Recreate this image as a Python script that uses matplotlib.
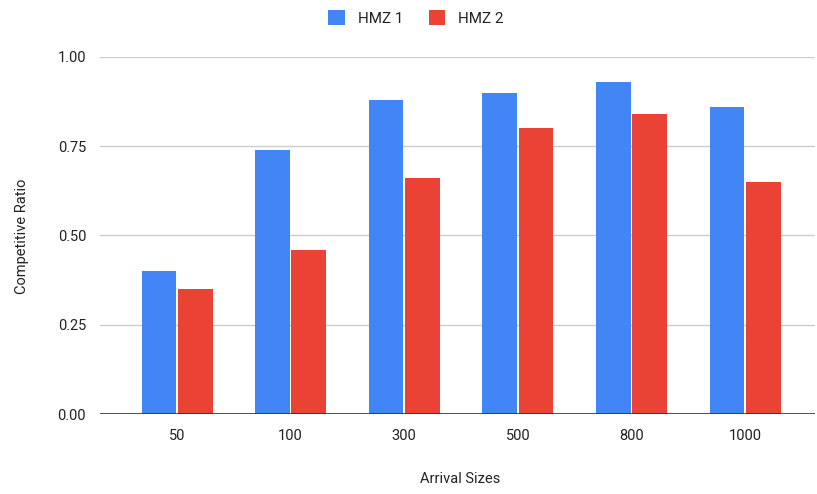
import matplotlib
matplotlib.use("Agg")
import matplotlib.pyplot as plt
import numpy as np
from matplotlib.patches import Patch

categories = ["50", "100", "300", "500", "800", "1000"]
hmz1 = [0.40, 0.74, 0.88, 0.90, 0.93, 0.86]
hmz2 = [0.35, 0.46, 0.66, 0.80, 0.84, 0.65]
series_names = ["HMZ 1", "HMZ 2"]
yticks = [0.0, 0.25, 0.5, 0.75, 1.0]
ytick_labels = ["0.00", "0.25", "0.50", "0.75", "1.00"]

plt.rcParams['font.family'] = ['Roboto', 'DejaVu Sans']
blue = "#4285F4"
red = "#EA4335"

W, H = 817, 494
fig = plt.figure(figsize=(W/100, H/100), dpi=100)
ax = fig.add_axes([100/W, (H-414)/H, (815-100)/W, (414-57)/H])

x = np.arange(len(categories))
bw = 0.305
ax.bar(x - 0.16, hmz1, width=bw, color=blue, zorder=3, edgecolor="none")
ax.bar(x + 0.16, hmz2, width=bw, color=red, zorder=3, edgecolor="none")

ax.set_xlim(-0.678, 5.616)
ax.set_ylim(0, 1.0)
ax.set_yticks(yticks)
ax.set_yticklabels(ytick_labels)
ax.set_xticks(x)
ax.set_xticklabels(categories)
ax.grid(axis="y", color="#cccccc", linewidth=1, zorder=0)
ax.axhline(0, color="#333333", linewidth=1.2, zorder=4)
for s in ax.spines.values():
    s.set_visible(False)
ax.tick_params(axis="both", length=0, labelsize=10.5, colors="#222222")
ax.tick_params(axis="x", pad=11)
ax.tick_params(axis="y", pad=10)

fig.text(22/W, 1 - 236/H, "Competitive Ratio", rotation=90, ha="center", va="center",
         fontsize=10.5, color="#222222")
fig.text(460/W, 1 - 479/H, "Arrival Sizes", ha="center", va="center",
         fontsize=10.5, color="#222222")

handles = [Patch(facecolor=blue), Patch(facecolor=red)]
fig.legend(handles, series_names, loc="center", bbox_to_anchor=(416/W, 1 - 18/H),
           ncol=2, frameon=False, fontsize=11, handlelength=1.05, handleheight=1.05,
           handletextpad=0.85, columnspacing=1.7, labelcolor="#222222")

fig.savefig("out.png", dpi=100)
